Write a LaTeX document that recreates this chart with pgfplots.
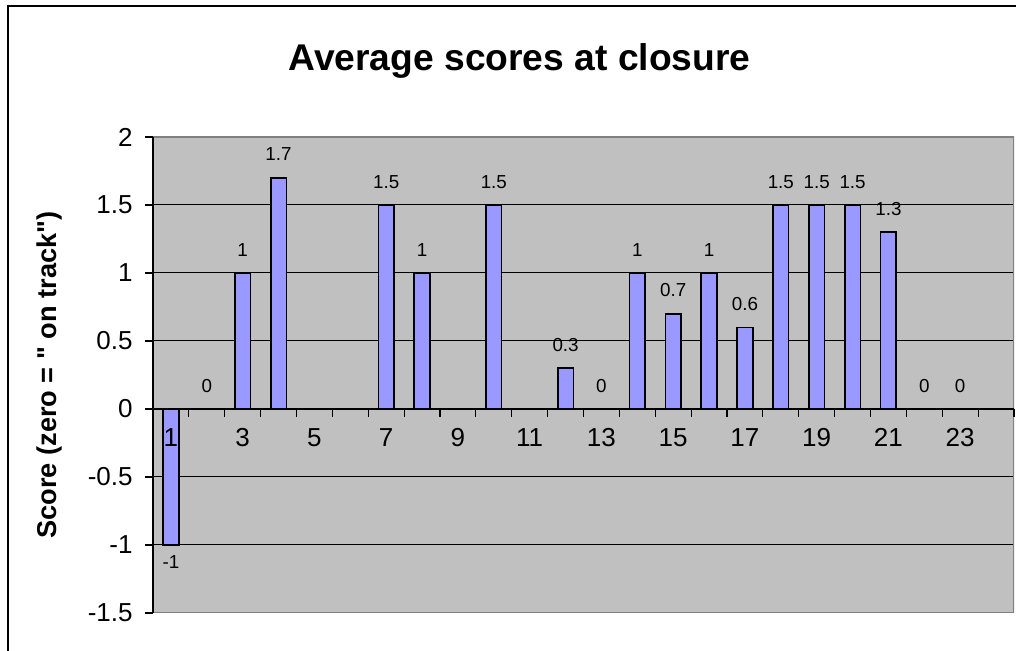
\documentclass[border=0pt]{standalone}
\usepackage{pgfplots}
\pgfplotsset{compat=1.18}
\usepackage{fontspec}
\setmainfont{Liberation Sans}
\definecolor{barblue}{HTML}{9999FF}
\definecolor{plotgray}{HTML}{C0C0C0}
\definecolor{bordergray}{HTML}{808080}
\begin{document}
\begin{tikzpicture}
\draw[line width=1pt] (3.75pt,-20pt) rectangle (540pt,322.5pt);
\begin{axis}[
  axis on top,
  at={(76.5pt,19pt)}, anchor=south west,
  scale only axis, width=430.5pt, height=238pt,
  xmin=0.5, xmax=24.5, ymin=-1.5, ymax=2,
  axis x line*=middle, axis y line*=left,
  axis background/.style={fill=plotgray},
  axis line style={black, line width=0.6pt},
  tick style={black, line width=0.6pt},
  tick align=outside, major tick length=4pt,
  /pgf/number format/assume math mode=true,
  ytick={-1.5,-1,-0.5,0,0.5,1,1.5,2},
  yticklabels={-1.5,-1,-0.5,0,0.5,1,1.5,2},
  yticklabel style={font=\fontsize{13}{15}\selectfont, anchor=east, inner sep=0pt, xshift=-6pt},
  xtick={1.5,2.5,3.5,4.5,5.5,6.5,7.5,8.5,9.5,10.5,11.5,12.5,13.5,14.5,15.5,16.5,17.5,18.5,19.5,20.5,21.5,22.5,23.5,24.5},
  xticklabels={},
  extra x ticks={1,3,5,7,9,11,13,15,17,19,21,23},
  extra x tick labels={1,3,5,7,9,11,13,15,17,19,21,23},
  extra x tick style={major tick length=0pt, xticklabel style={font=\fontsize{13}{15}\selectfont, anchor=north, inner sep=0pt, yshift=-9.5pt}},
  hide obscured x ticks=false, hide obscured y ticks=false,
  title={Average scores at closure},
  title style={font=\fontsize{18.6}{22}\selectfont\bfseries, at={(axis description cs:0.4257,1.1135)}, anchor=base},
  ylabel={Score (zero = \textquotedbl{} on track\textquotedbl)},
  every axis y label/.style={font=\fontsize{13.6}{16}\selectfont\bfseries, at={(axis description cs:-0.1115,0.5)}, rotate=90, anchor=base},
]
% horizontal gridlines, drawn behind the bars
\addplot[black, line width=0.5pt, forget plot] coordinates {(0.5,-1) (24.5,-1)};
\addplot[black, line width=0.5pt, forget plot] coordinates {(0.5,-0.5) (24.5,-0.5)};
\addplot[black, line width=0.5pt, forget plot] coordinates {(0.5,0.5) (24.5,0.5)};
\addplot[black, line width=0.5pt, forget plot] coordinates {(0.5,1) (24.5,1)};
\addplot[black, line width=0.5pt, forget plot] coordinates {(0.5,1.5) (24.5,1.5)};
\addplot[ybar, bar width=7.8pt, bar shift=0pt, fill=barblue, draw=black, line width=0.8pt,
  nodes near coords,
  every node near coord/.append style={font=\fontsize{9.4}{11}\selectfont, text=black, anchor=south, inner sep=0pt, yshift=8pt}]
  coordinates {(2,0) (3,1) (4,1.7) (7,1.5) (8,1) (10,1.5) (12,0.3) (13,0) (14,1) (15,0.7) (16,1) (17,0.6) (18,1.5) (19,1.5) (20,1.5) (21,1.3) (22,0) (23,0)};
\addplot[ybar, bar width=7.8pt, bar shift=0pt, fill=barblue, draw=black, line width=0.8pt,
  nodes near coords,
  every node near coord/.append style={font=\fontsize{9.4}{11}\selectfont, text=black, anchor=north, inner sep=0pt, yshift=-5pt}]
  coordinates {(1,-1)};
\draw[bordergray, line width=1pt] (rel axis cs:0,0) -- (rel axis cs:1,0) -- (rel axis cs:1,1) -- (rel axis cs:0,1);
\end{axis}
\pgfresetboundingbox
\useasboundingbox (0pt,0pt) rectangle (508pt,325.5pt);
\end{tikzpicture}
\end{document}
